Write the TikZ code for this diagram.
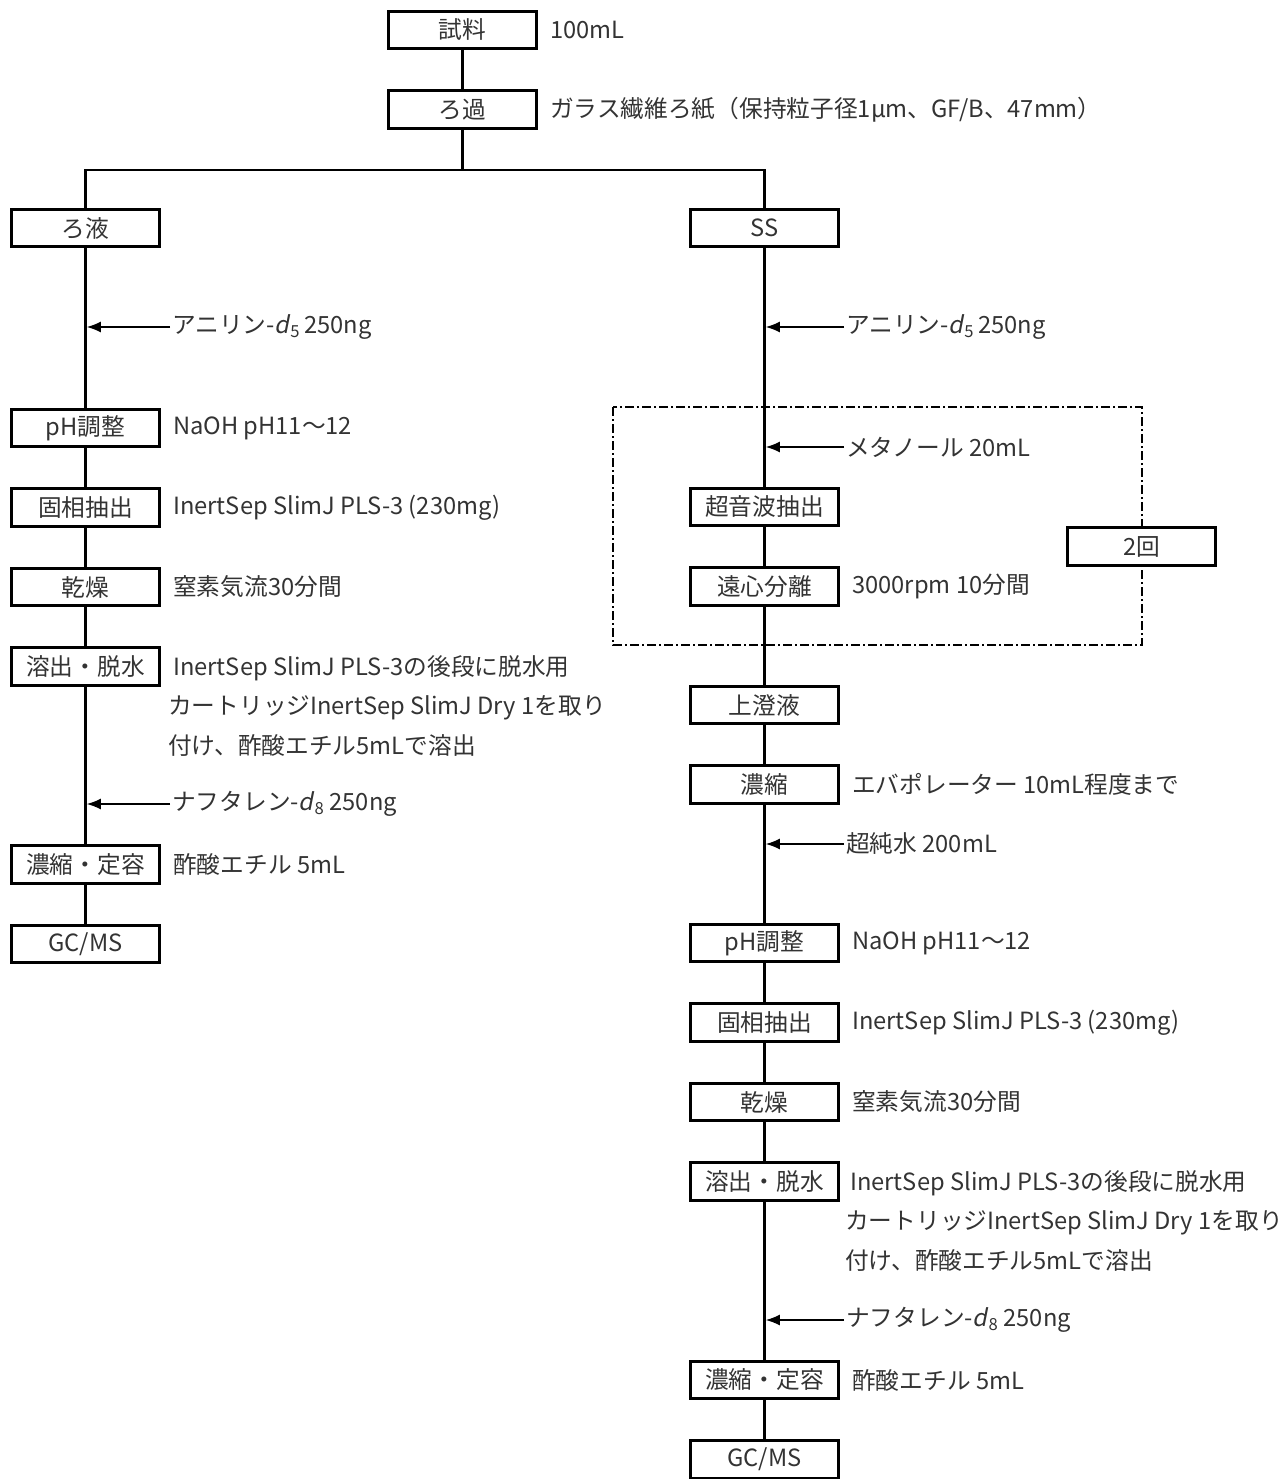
\documentclass[tikz,border=0pt]{standalone}
\usepackage{fontspec}
\setmainfont{Noto Sans CJK JP}
\newfontfamily\slfont[FakeSlant=0.2]{Noto Sans CJK JP}
\usetikzlibrary{arrows.meta,positioning}
\newcommand{\dlab}[1]{{\slfont d}\kern1pt\textsubscript{#1}}

\begin{document}
\begin{tikzpicture}[x=1pt, y=1pt, node distance=79.5pt, font=\fontsize{23.7}{39.5}\selectfont]
    \tikzstyle{proc} = [shape=rectangle, draw=black, line width=2.6pt, minimum width=148.5pt, minimum height=37.5pt, inner sep=0pt, text=black!80]
    \tikzstyle{note} = [anchor=west, inner sep=0pt, text=black!80]
    \tikzstyle{addnote} = [anchor=west, inner xsep=2pt, inner ysep=0pt, text=black!80]
    \tikzstyle{flow} = [draw=black, line width=2.6pt]
    \tikzstyle{add} = [draw=black, line width=1.5pt, shorten >=1.3pt, -{Latex[length=14pt,width=11pt]}]
    \tikzstyle{rep} = [draw=black, line width=2pt, dash pattern=on 9pt off 3pt on 2pt off 3pt]
    \useasboundingbox (0,0) rectangle (1285,-1479);

    % 共通
    \node (t1) [proc] at (462.5,-30) {試料};
    \node (t2) [proc] [below of = t1] {ろ過} edge [flow] (t1);
    \coordinate (split) at (462.5,-170);
    \node (t1n) [note, right=12pt of t1] {100mL};
    \node (t2n) [note, right=12pt of t2] {ガラス繊維ろ紙（保持粒子径1μm、GF/B、47mm）};

    % ろ液
    \node (l1) [proc] at (85.5,-228) {ろ液};
    \node (l2) [proc] at (85.5,-428) {pH調整} edge [flow] (l1);
    \node (l3) [proc] [below of = l2] {固相抽出} edge [flow] (l2);
    \node (l4) [proc] [below of = l3] {乾燥} edge [flow] (l3);
    \node (l5) [proc] [below of = l4] {溶出・脱水} edge [flow] (l4);
    \node (l6) [proc] at (85.5,-864.5) {濃縮・定容} edge [flow] (l5);
    \node (l7) [proc] [below of = l6] {GC/MS} edge [flow] (l6);

    \node (l2n) [note, right=12pt of l2] {NaOH pH11～12};
    \node (l3n) [note, right=12pt of l3] {InertSep SlimJ PLS-3 (230mg)};
    \node (l4n) [note, right=12pt of l4] {窒素気流30分間};
    \node (l5n) [note, align=left, right=7pt of l5, yshift=-39.5pt] {\hspace{5pt}InertSep SlimJ PLS-3の後段に脱水用\\カートリッジInertSep SlimJ Dry 1を取り\\付け、酢酸エチル5mLで溶出};
    \node (l6n) [note, right=12pt of l6] {酢酸エチル 5mL};

    \node (a1) [addnote] at (170,-327) {アニリン-\dlab{5}\,250ng};
    \node (a3) [addnote] at (170,-804) {ナフタレン-\dlab{8} 250ng};

    % SS
    \draw [rep] (613,-407) rectangle (1142,-645);
    \node (r1) [proc] at (764.5,-228) {SS};
    \node (r2) [proc] at (764.5,-507) {超音波抽出} edge [flow] (r1);
    \node (r3) [proc] [below of = r2] {遠心分離} edge [flow] (r2);
    \node (r4) [proc] at (764.5,-705) {上澄液} edge [flow] (r3);
    \node (r5) [proc] [below of = r4] {濃縮} edge [flow] (r4);
    \node (r6) [proc] at (764.5,-943) {pH調整} edge [flow] (r5);
    \node (r7) [proc] [below of = r6] {固相抽出} edge [flow] (r6);
    \node (r8) [proc] [below of = r7] {乾燥} edge [flow] (r7);
    \node (r9) [proc] [below of = r8] {溶出・脱水} edge [flow] (r8);
    \node (r10) [proc] at (764.5,-1380) {濃縮・定容} edge [flow] (r9);
    \node (r11) [proc] [below of = r10] {GC/MS} edge [flow] (r10);
    \node (rep2) [proc, fill=white] at (1141.5,-546.5) {2回};

    \node (r3n) [note, right=12pt of r3] {3000rpm 10分間};
    \node (r5n) [note, right=12pt of r5] {エバポレーター 10mL程度まで};
    \node (r6n) [note, right=12pt of r6] {NaOH pH11～12};
    \node (r7n) [note, right=12pt of r7] {InertSep SlimJ PLS-3 (230mg)};
    \node (r8n) [note, right=12pt of r8] {窒素気流30分間};
    \node (r9n) [note, align=left, right=5pt of r9, yshift=-39.5pt] {\hspace{5pt}InertSep SlimJ PLS-3の後段に脱水用\\カートリッジInertSep SlimJ Dry 1を取り\\付け、酢酸エチル5mLで溶出};
    \node (r10n) [note, right=12pt of r10] {酢酸エチル 5mL};

    \node (a2) [addnote] at (844,-327) {アニリン-\dlab{5}\,250ng};
    \node (a4) [addnote] at (844,-447) {メタノール 20mL};
    \node (a5) [addnote] at (844,-844) {超純水 200mL};
    \node (a6) [addnote] at (844,-1320) {ナフタレン-\dlab{8} 250ng};

    % 分岐と添加
    \draw [flow] (t2) -- (split);
    \draw [flow] (l1) |- (split) -| (r1);
    \draw [add] (a1.west) -- (a1.west -| l1);
    \draw [add] (a3.west) -- (a3.west -| l1);
    \draw [add] (a2.west) -- (a2.west -| r1);
    \draw [add] (a4.west) -- (a4.west -| r1);
    \draw [add] (a5.west) -- (a5.west -| r1);
    \draw [add] (a6.west) -- (a6.west -| r1);
\end{tikzpicture}
\end{document}
